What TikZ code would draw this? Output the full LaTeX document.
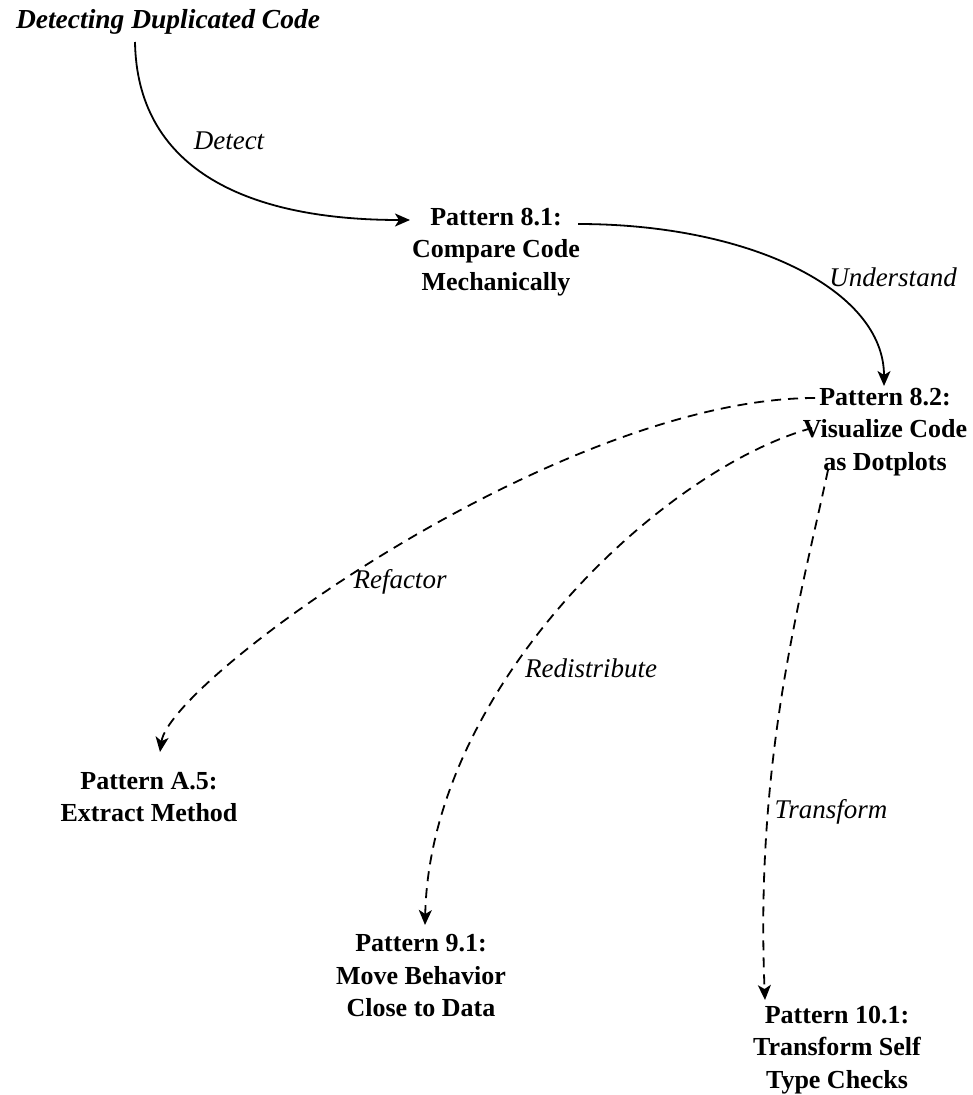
\documentclass[tikz,border=0pt]{standalone}
\usepackage{fontspec}
\setmainfont{Liberation Serif}
\usetikzlibrary{arrows.meta}
\begin{document}
\begin{tikzpicture}[x=1pt,y=-1pt,
  pattern/.style={font=\fontsize{26}{32.5}\selectfont\bfseries, align=center, inner sep=0pt},
  heading/.style={font=\fontsize{27.5}{33}\selectfont\bfseries\itshape, inner sep=0pt},
  lbl/.style={font=\fontsize{27}{33}\selectfont\itshape, inner sep=0pt},
  flow/.style={line width=1.8pt, -{Stealth[length=15pt,width=13pt,inset=4pt]}},
  maybe/.style={flow, dash pattern=on 10pt off 7pt}]
\useasboundingbox (0,0) rectangle (973,1095);

% topic and pattern nodes
\node[heading] (title) at (168,22) {Detecting Duplicated Code};
\node[pattern] (p81) at (496,252) {Pattern 8.1:\\Compare Code\\Mechanically};
\node[pattern] (p82) at (885,432) {Pattern 8.2:\\Visualize Code\\as Dotplots};
\node[pattern] (pa5) at (149,797) {Pattern A.5:\\Extract Method};
\node[pattern] (p91) at (421,976) {Pattern 9.1:\\Move Behavior\\Close to Data};
\node[pattern] (p101) at (837,1050) {Pattern 10.1:\\Transform Self\\Type Checks};

% edge labels
\node[lbl] (lDetect) at (229,141) {Detect};
\node[lbl] (lUnderstand) at (893,277) {Understand};
\node[lbl] (lRefactor) at (400,582) {Refactor};
\node[lbl] (lRedistribute) at (591,668) {Redistribute};
\node[lbl] (lTransform) at (831,812) {Transform};

% solid connectors
\draw[flow] ([shift={(-33,20)}]title.center) .. controls (137,165) and (240,220) .. ([shift={(-86,-32)}]p81.center);
\draw[flow] ([shift={(82,-28)}]p81.center) .. controls (750,224) and (884,290) .. ([shift={(-1,-46)}]p82.center);

% dashed connectors
\draw[maybe] ([shift={(-70,-34)}]p82.center) .. controls (560,398) and (170,680) .. ([shift={(11,-45)}]pa5.center);
\draw[maybe] ([shift={(-73,-4)}]p82.center) .. controls (660,470) and (430,690) .. ([shift={(4,-51)}]p91.center);
\draw[maybe] ([shift={(-57,38)}]p82.center) .. controls (800,600) and (755,760) .. ([shift={(-72,-50)}]p101.center);
\end{tikzpicture}
\end{document}
